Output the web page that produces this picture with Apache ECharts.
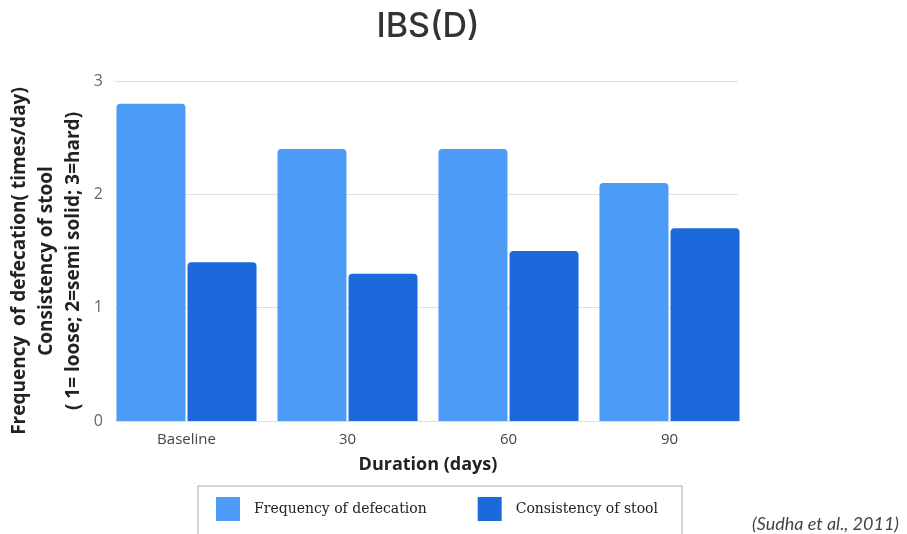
<!DOCTYPE html>
<html>
<head>
<meta charset="utf-8">
<script src="https://cdn.jsdelivr.net/npm/echarts@6/dist/echarts.min.js"></script>
<style>html,body{margin:0;padding:0;background:#fff;}#c{width:907px;height:534px;}</style>
</head>
<body>
<div id="c"></div>
<script>
var categories = ['Baseline', '30', '60', '90'];
var frequencyOfDefecation = [2.8, 2.4, 2.4, 2.1];
var consistencyOfStool = [1.4, 1.3, 1.5, 1.7];
var yTicks = [0, 1, 2, 3];
var seriesNames = ['Frequency of defecation', 'Consistency of stool'];
var yTitleLines = ['Frequency  of defecation( times/day)', 'Consistency of stool', '( 1= loose; 2=semi solid; 3=hard)'];

var chart = echarts.init(document.getElementById('c'), null, {renderer: 'canvas'});
chart.setOption({
  backgroundColor: '#fff',
  animation: false,
  title: [
    {text: 'IBS(D)', left: 423, top: 5, textAlign: 'center',
     textStyle: {fontFamily: 'Inter', fontWeight: 500, fontSize: 34, color: '#333'}},
    {text: '(Sudha et al., 2011)', right: 3, top: 510,
     textStyle: {fontFamily: 'Lato', fontStyle: 'italic', fontWeight: 400, fontSize: 18, color: '#444'}}
  ],
  legend: {
    data: seriesNames,
    left: 198, top: 486,
    orient: 'horizontal',
    borderColor: '#aaa', borderWidth: 1,
    padding: [11, 24, 16, 18],
    itemWidth: 24, itemHeight: 24, itemGap: 51,
    icon: 'rect',
    textStyle: {fontFamily: 'DejaVu Serif', fontSize: 14, color: '#222', padding: [5, 0, 0, 9]}
  },
  grid: [
    {left: 115, right: 169, top: 81, bottom: 113},
    {left: 106, right: 157, top: 81, bottom: 113}
  ],
  xAxis: [
    {gridIndex: 0, type: 'category', data: categories, show: false},
    {gridIndex: 1, type: 'category', data: categories,
     axisLine: {show: false}, axisTick: {show: false},
     axisLabel: {margin: 11, fontFamily: 'Open Sans', fontSize: 15, color: '#444'},
     name: 'Duration (days)', nameLocation: 'middle', nameGap: 35,
     nameTextStyle: {fontFamily: 'Open Sans', fontWeight: 'bold', fontSize: 18, color: '#222'}}
  ],
  yAxis: [
    {gridIndex: 0, type: 'value', min: 0, max: 3, interval: 1,
     axisLine: {show: false}, axisTick: {show: false},
     axisLabel: {margin: 12, fontFamily: 'Open Sans', fontSize: 16, color: '#666',
       formatter: function (v) { return yTicks.indexOf(v) >= 0 ? String(v) : ''; }},
     splitLine: {lineStyle: {color: '#e0e0e0', width: 1}},
     name: yTitleLines.map(function (l) { return '{a|' + l + '}'; }).join('\n'),
     nameLocation: 'middle', nameGap: 26, nameRotate: 90,
     nameTextStyle: {
       padding: [0, 0, 0, 0],
       rich: {a: {fontFamily: 'Open Sans', fontWeight: 'bold', fontSize: 19, color: '#222',
                  lineHeight: 27, width: 380, align: 'center', padding: [0, 20, 0, 0]}}
     }},
    {gridIndex: 1, type: 'value', min: 0, max: 3, interval: 1, show: false,
     splitLine: {show: false}}
  ],
  series: [
    {name: seriesNames[0], type: 'bar', xAxisIndex: 1, yAxisIndex: 1,
     data: frequencyOfDefecation, barWidth: 69, barGap: '3%',
     itemStyle: {color: '#4b9bf7', borderRadius: [4, 4, 0, 0]}},
    {name: seriesNames[1], type: 'bar', xAxisIndex: 1, yAxisIndex: 1,
     data: consistencyOfStool, barWidth: 69, barGap: '3%',
     itemStyle: {color: '#1b69db', borderRadius: [4, 4, 0, 0]}}
  ]
});
</script>
</body>
</html>
